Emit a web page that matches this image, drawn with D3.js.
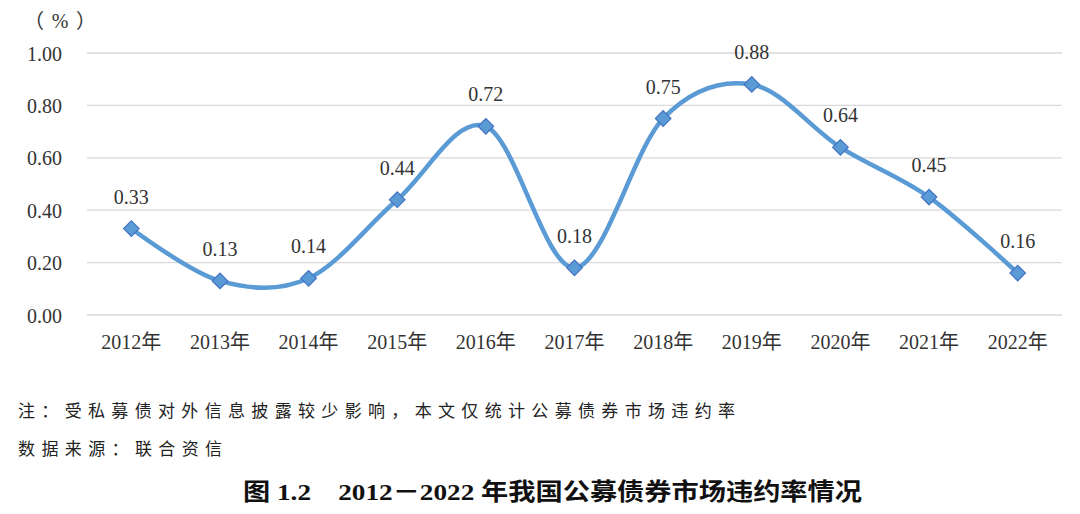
<!DOCTYPE html>
<html><head><meta charset="utf-8">
<script src="https://cdn.jsdelivr.net/npm/d3@7"></script>
<style>body{margin:0;background:#fff;}svg{display:block;}
.serif{font-family:"Liberation Serif","Times New Roman","DejaVu Serif","Noto Sans CJK SC",serif;}
.cjk{font-family:"Noto Sans CJK SC",sans-serif;}
</style>
</head><body>
<script>
const categories = ["2012年","2013年","2014年","2015年","2016年","2017年","2018年","2019年","2020年","2021年","2022年"];
const values = [0.33,0.13,0.14,0.44,0.72,0.18,0.75,0.88,0.64,0.45,0.16];
const yTicks = [0,0.2,0.4,0.6,0.8,1.0];
const unitLabel = ["（","%","）"];
const note1 = "注：受私募债对外信息披露较少影响，本文仅统计公募债券市场违约率";
const note2 = "数据来源：联合资信";
const title = "图 1.2　2012－2022 年我国公募债券市场违约率情况";

const W=1080,H=514;
const svg=d3.select("body").append("svg").attr("width",W).attr("height",H);
const x=d3.scaleBand().domain(categories).range([87,1062]);
const y=d3.scaleLinear().domain([0,1]).range([315,53]);

svg.append("g").selectAll("line").data(yTicks).join("line")
 .attr("x1",87).attr("x2",1062).attr("y1",d=>y(d)).attr("y2",d=>y(d))
 .attr("stroke","#d9d9d9").attr("stroke-width",1.3);

const yAxis=d3.axisLeft(y).tickValues(yTicks).tickFormat(d3.format(".2f")).tickSize(0).tickPadding(0);
const ya=svg.append("g").attr("transform","translate(62,0)").call(yAxis);
ya.select(".domain").remove();
ya.attr("font-family",null).attr("font-size",null);
ya.selectAll("text").attr("class","serif").style("font-size","20px").attr("fill","#333").attr("dy","0.35em");

const xAxis=d3.axisBottom(x).tickSize(0).tickPadding(0);
const xa=svg.append("g").attr("transform","translate(0,335)").call(xAxis);
xa.select(".domain").remove();
xa.attr("font-family",null).attr("font-size",null);
xa.selectAll("text").attr("class","serif").style("font-size","20px").attr("fill","#333").attr("dy","0.71em");

const unitX=[34,60,86];
svg.append("g").selectAll("text").data(unitLabel).join("text")
 .attr("x",(d,i)=>unitX[i]).attr("y",28).attr("text-anchor","middle")
 .attr("class",(d,i)=>i===1?"serif":"cjk").style("font-size","20px").attr("fill","#333")
 .text(d=>d);

const cx=(d,i)=>x(categories[i])+x.bandwidth()/2;
const line=d3.line().x((d,i)=>cx(d,i)).y(d=>y(d)).curve(d3.curveCardinal.tension(0));
svg.append("path").datum(values).attr("d",line).attr("fill","none")
 .attr("stroke","#5B9BD5").attr("stroke-width",4.5).attr("stroke-linejoin","round").attr("stroke-linecap","round");

svg.append("g").selectAll("path").data(values).join("path")
 .attr("transform",(d,i)=>`translate(${cx(d,i)},${y(d)}) rotate(45)`)
 .attr("d",()=>{const s=5.5;return `M${-s},${-s}L${s},${-s}L${s},${s}L${-s},${s}Z`;})
 .attr("fill","#5B9BD5").attr("stroke","#4472C4").attr("stroke-width",1.2);

svg.append("g").selectAll("text").data(values).join("text")
 .attr("x",(d,i)=>cx(d,i)).attr("y",d=>y(d)-25)
 .attr("text-anchor","middle").attr("class","serif").style("font-size","20px").attr("fill","#333")
 .text(d=>d3.format(".2f")(d));

svg.append("text").attr("x",18).attr("y",417).attr("class","cjk")
 .style("font-size","17px").attr("fill","#222").attr("textLength",717).attr("lengthAdjust","spacing").text(note1);
svg.append("text").attr("x",18).attr("y",455).attr("class","cjk")
 .style("font-size","17px").attr("fill","#222").attr("textLength",204).attr("lengthAdjust","spacing").text(note2);

svg.append("text").attr("x",243).attr("y",500).attr("class","serif")
 .style("font-weight","bold").style("font-size","24px").attr("fill","#111")
 .attr("textLength",619).attr("lengthAdjust","spacingAndGlyphs").text(title);
</script>
</body></html>
